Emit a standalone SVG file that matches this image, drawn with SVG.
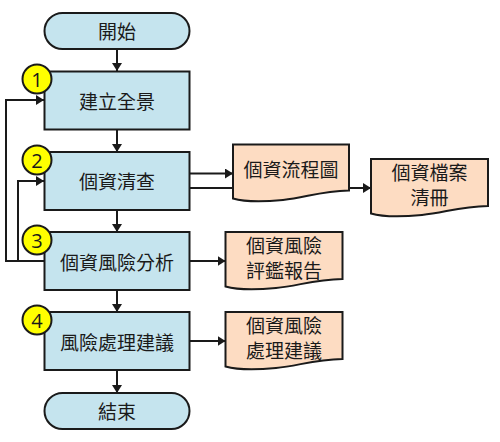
<svg xmlns="http://www.w3.org/2000/svg" width="500" height="442" viewBox="0 0 500 442">
<style>
.box{fill:#c5e4ee;stroke:#1a1a1a;stroke-width:2}
.doc{fill:#fddcc2;stroke:#1a1a1a;stroke-width:2}
.num{fill:#ffff00;stroke:#1a1a1a;stroke-width:2}
.t{font-family:"Noto Sans CJK TC","Noto Sans CJK SC",sans-serif;font-size:19px;fill:#1a1a1a;text-anchor:middle;dominant-baseline:central}
.n{font-family:"Open Sans","Liberation Sans",sans-serif;font-size:20px;fill:#1a1a1a;text-anchor:middle;dominant-baseline:central}
.c{fill:none;stroke:#1a1a1a;stroke-width:2}
</style>
<defs>
<marker id="a" markerUnits="userSpaceOnUse" markerWidth="9" markerHeight="10" refX="8" refY="5" orient="auto"><path d="M0 0L8 5L0 10z" fill="#1a1a1a"/></marker>
</defs>
<g id="connectors">
<path class="c" d="M117 49V71" marker-end="url(#a)"/>
<path class="c" d="M117 129V152" marker-end="url(#a)"/>
<path class="c" d="M117 210V232" marker-end="url(#a)"/>
<path class="c" d="M117 290V312" marker-end="url(#a)"/>
<path class="c" d="M117 370V393" marker-end="url(#a)"/>
<path class="c" d="M44 261H6V100H44" marker-end="url(#a)"/>
<path class="c" d="M18 261V181H44" marker-end="url(#a)"/>
<path class="c" d="M189 173.500H233" marker-end="url(#a)"/>
<path class="c" d="M189 188H233"/>
<path class="c" d="M349 188H371" marker-end="url(#a)"/>
<path class="c" d="M189 261H225.500" marker-end="url(#a)"/>
<path class="c" d="M189 341H225.500" marker-end="url(#a)"/>
</g>
<g id="start"><rect class="box" x="44.500" y="13" width="145" height="36" rx="18"/><text class="t" x="117" y="30">開始</text></g>
<g id="step1"><rect class="box" x="44.500" y="71.500" width="145" height="58"/><text class="t" x="117" y="100">建立全景</text><circle class="num" cx="37" cy="79" r="14.500"/><text class="n" x="37" y="79">1</text></g>
<g id="step2"><rect class="box" x="44.500" y="152" width="145" height="58"/><text class="t" x="117" y="180">個資清查</text><circle class="num" cx="37" cy="160" r="14.500"/><text class="n" x="37" y="160">2</text></g>
<g id="step3"><rect class="box" x="44.500" y="232" width="145" height="58"/><text class="t" x="117" y="261">個資風險分析</text><circle class="num" cx="37" cy="240" r="14.500"/><text class="n" x="37" y="240">3</text></g>
<g id="step4"><rect class="box" x="44.500" y="312" width="145" height="58"/><text class="t" x="117" y="341">風險處理建議</text><circle class="num" cx="37" cy="320" r="14.500"/><text class="n" x="37" y="320">4</text></g>
<g id="end"><rect class="box" x="44.500" y="393" width="145" height="36" rx="18"/><text class="t" x="117" y="410">結束</text></g>
<g id="doc1"><path class="doc" d="M233 144.500H349V190.500C320 191 305 198 283 200C262 202 245 202 233 198.500Z"/><text class="t" x="291" y="168">個資流程圖</text></g>
<g id="doc2"><path class="doc" d="M371 159H488V206C459 206.500 444 213 422 215C401 217 383 217 371 213.500Z"/><text class="t" x="429.500" y="171">個資檔案</text><text class="t" x="429.500" y="196">清冊</text></g>
<g id="doc3"><path class="doc" d="M225.500 232H342.500V279C313.500 279.500 298 286 276 288C255 290 238 290 225.500 286.500Z"/><text class="t" x="284" y="244">個資風險</text><text class="t" x="284" y="269">評鑑報告</text></g>
<g id="doc4"><path class="doc" d="M225.500 312H342.500V359C313.500 359.500 298 366 276 368C255 370 238 370 225.500 366.500Z"/><text class="t" x="284" y="324">個資風險</text><text class="t" x="284" y="349">處理建議</text></g>
</svg>
